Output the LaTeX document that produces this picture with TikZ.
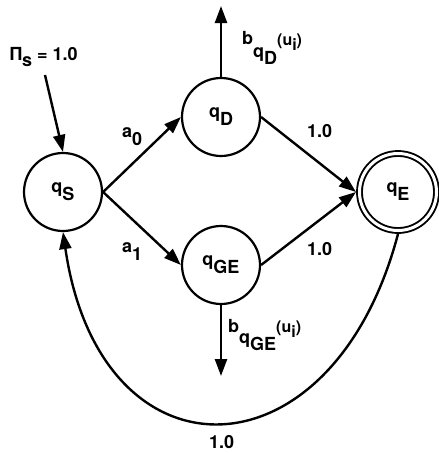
\documentclass[tikz,border=0pt]{standalone}
\usepackage{fontspec}
\setmainfont{TeX Gyre Heros}
\usetikzlibrary{arrows.meta}
\newcommand\lo[1]{\raisebox{-8pt}{#1}}
\begin{document}
\begin{tikzpicture}[x=1pt,y=-1pt,
  font=\fontsize{18}{21}\selectfont\bfseries,
  line width=2.4pt,
  state/.style={circle, draw, minimum size=78pt, inner sep=0pt, line width=2.2pt},
  final/.style={circle, draw, double, double distance=3pt, line width=1.9pt,
    minimum size=77pt, inner sep=0pt, outer sep=3.5pt},
  arr/.style={-{Triangle[length=17pt,width=12pt]}},
  lbl/.style={inner sep=0pt, anchor=base west}]
\useasboundingbox (0,0) rectangle (439,453);

\node[state] (qS) at (63,192) {q\lo{S}};
\node[state] (qD) at (221,117) {q\lo{D}};
\node[state] (qGE) at (221,265) {q\lo{GE}};
\node[final] (qE) at (398,192) {q\lo{E}};

\coordinate (pis) at (45,75);
\coordinate (upend) at (221,6);
\coordinate (dnend) at (221,376);

\draw[arr] (pis) -- (qS.north);
\draw[arr] (qS.east) -- (qD.west);
\draw[arr] (qS.east) -- (qGE.west);
\draw[arr] (qD.east) -- (qE.west);
\draw[arr] (qGE.east) -- (qE.west);
\draw[arr] (qD.north) -- (upend);
\draw[arr] (qGE.south) -- (dnend);
\draw[arr] (qE.south) .. controls (332,484) and (100,487) .. (qS.south);

\node[lbl] (lpi) at (9,60) {Π\raisebox{-6pt}{s} = 1.0};
\node[lbl] (la0) at (121,137) {a\lo{0}};
\node[lbl] (la1) at (121,252) {a\lo{1}};
\node[lbl] (l1a) at (306,137) {1.0};
\node[lbl] (l1b) at (306,255) {1.0};
\node[lbl] (l1c) at (208,448) {1.0};
\node[lbl] (lbD) at (241,44) {b\raisebox{-13pt}{q\raisebox{-7pt}{D}}\raisebox{-1.5pt}{\fontsize{16}{19}\selectfont(u\raisebox{-5pt}{i})}};
\node[lbl] (lbGE) at (227,332) {b\raisebox{-11.5pt}{q\raisebox{-7pt}{GE}}\raisebox{0pt}{\fontsize{16}{19}\selectfont(u\raisebox{-5pt}{i})}};
\end{tikzpicture}
\end{document}
